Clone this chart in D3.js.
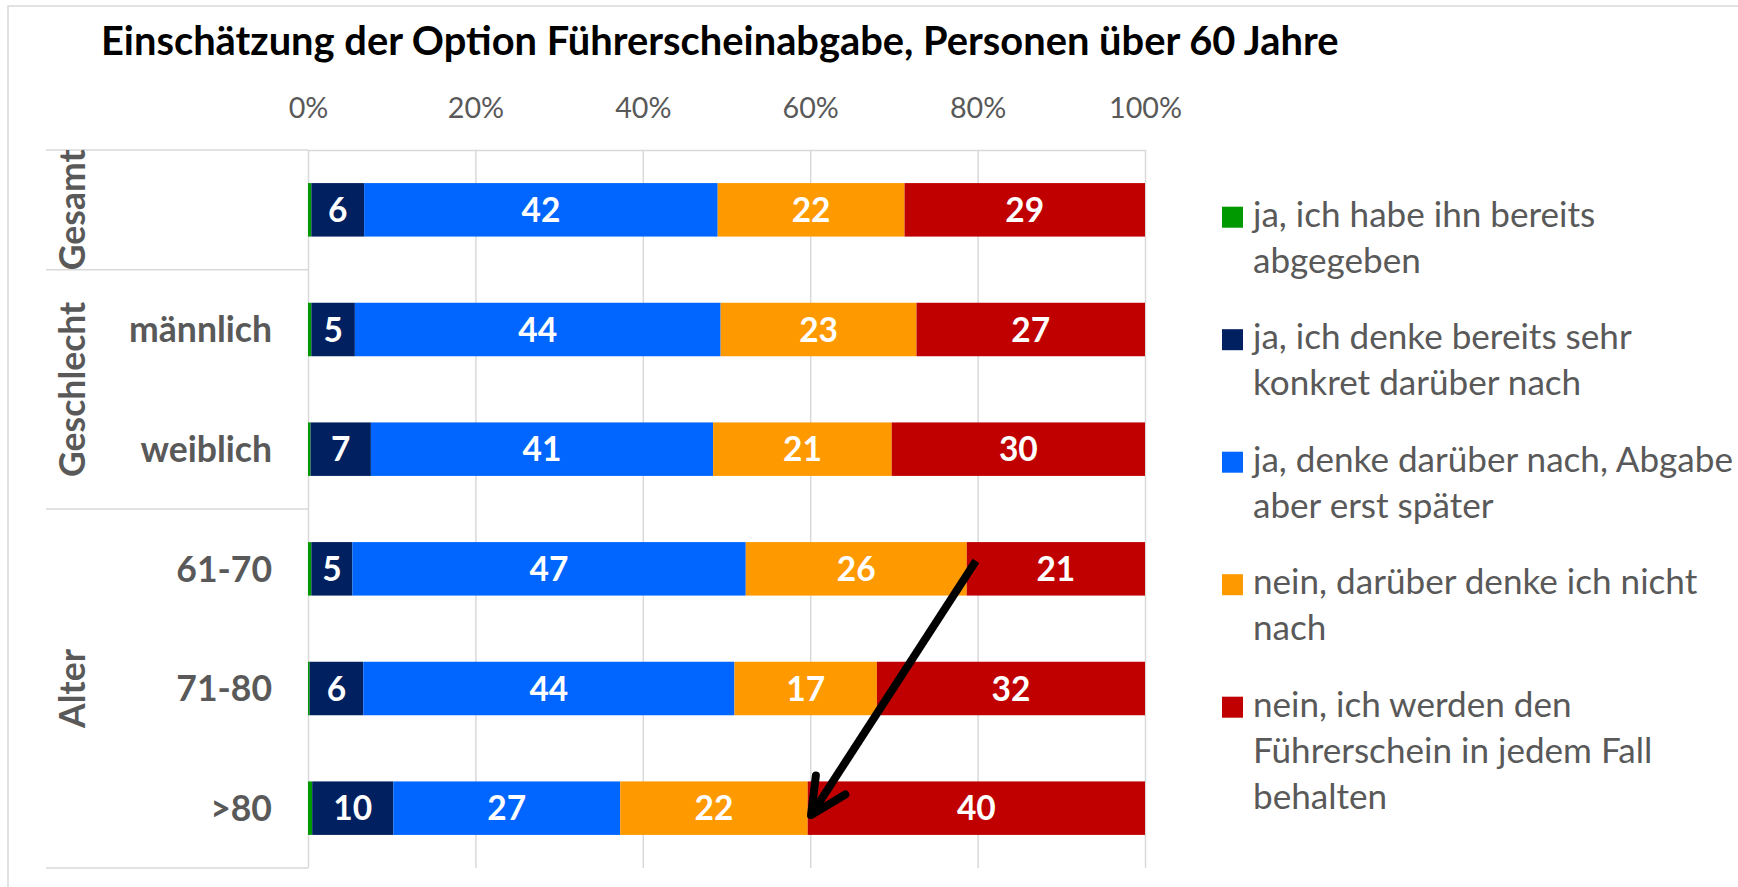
<!DOCTYPE html>
<html><head><meta charset="utf-8">
<script src="https://cdn.jsdelivr.net/npm/d3@7"></script>
<style>
html,body{margin:0;padding:0;background:#fff;}
svg{display:block;}
text{font-family:Lato,"Open Sans",sans-serif;}
</style></head><body>
<svg id="chart" width="1738" height="887"></svg>
<script>
// ---------- data ----------
const titleText = "Einschätzung der Option Führerscheinabgabe, Personen über 60 Jahre";
const categories = ["Gesamt", "männlich", "weiblich", "61-70", "71-80", ">80"];
const categoryLabels = ["", "männlich", "weiblich", "61-70", "71-80", ">80"];
const groupNames = ["Gesamt", "Geschlecht", "Alter"];
const groupSizes = [1, 2, 3];
const seriesKeys = ["abgegeben", "konkret", "spaeter", "nichtNach", "behalten"];
const legendLines = [
  ["ja, ich habe ihn bereits", "abgegeben"],
  ["ja, ich denke bereits sehr", "konkret darüber nach"],
  ["ja, denke darüber nach, Abgabe", "aber erst später"],
  ["nein, darüber denke ich nicht", "nach"],
  ["nein, ich werden den", "Führerschein in jedem Fall", "behalten"]
];
const seriesColors = ["#009900", "#002060", "#0066FF", "#FF9900", "#C00000"];
// percentages per category (order of categories)
const abgegeben = [0.4, 0.4, 0.3, 0.4, 0.2, 0.5];
const konkret   = [6.3, 5.2, 7.2, 4.9, 6.4, 9.7];
const spaeter   = [42.2, 43.7, 40.8, 47.0, 44.3, 27.1];
const nichtNach = [22.3, 23.4, 21.3, 26.4, 17.0, 22.4];
const behalten  = [28.7, 27.3, 30.2, 21.3, 32.0, 40.3];
const tickValues = [0, 0.2, 0.4, 0.6, 0.8, 1.0];
const tickLabels = ["0%", "20%", "40%", "60%", "80%", "100%"];
// arrow annotation (value share, category, position within bar)
const arrowFrom = {cat: "61-70", value: 0.798, pos: 0.35};
const arrowTo   = {cat: ">80",   value: 0.601, pos: 0.63};

// ---------- setup ----------
const svg = d3.select("#chart");
const grid = "#D9D9D9", textGray = "#595959";
const plot = {left: 308, right: 1145, top: 150, bottom: 868};
const x = d3.scaleLinear().domain([0, 1]).range([plot.left, plot.right]);
const y = d3.scaleBand().domain(categories).range([plot.top, plot.bottom])
  .paddingInner(0.553).paddingOuter(0.2765);
const bw = y.bandwidth();

function fitFont(sel, sampleNode, target) {
  const w = sampleNode.getComputedTextLength();
  const fs = parseFloat(d3.select(sampleNode).attr("font-size"));
  sel.attr("font-size", fs * target / w);
}

// chart frame
svg.append("rect").attr("x", 8).attr("y", 6).attr("width", 1760).attr("height", 900)
  .attr("fill", "none").attr("stroke", grid).attr("stroke-width", 1.5);

// title
const title = svg.append("text").attr("x", 101).attr("y", 55)
  .attr("font-size", 40).attr("font-weight", "bold").attr("fill", "#000").text(titleText);
fitFont(title, title.node(), 1238);

// value axis on top with gridlines
const axis = svg.append("g").attr("transform", `translate(0,${plot.top})`)
  .call(d3.axisTop(x).tickValues(tickValues).tickFormat((d, i) => tickLabels[i])
    .tickSize(-(plot.bottom - plot.top)).tickSizeOuter(0).tickPadding(32));
axis.select(".domain").attr("stroke", grid).attr("stroke-width", 1.5);
axis.selectAll(".tick line").attr("stroke", grid).attr("stroke-width", 1.5);
const ticks = axis.selectAll(".tick text").attr("fill", textGray)
  .attr("font-size", 28).attr("dy", 0).attr("font-family", "Lato,'Open Sans',sans-serif");
fitFont(ticks, ticks.nodes()[5], 73);

// category group separator lines
const bounds = [0];
groupSizes.forEach(s => bounds.push(bounds[bounds.length - 1] + s));
const boundY = k => k < categories.length ? y(categories[k]) - y.step() * y.paddingInner() / 2 : plot.bottom;
svg.append("g").selectAll("line").data(bounds).join("line")
  .attr("x1", 46).attr("x2", plot.left)
  .attr("y1", d => boundY(d)).attr("y2", d => boundY(d))
  .attr("stroke", grid).attr("stroke-width", 1.5);

// category labels
const catText = svg.append("g").selectAll("text").data(categories).join("text")
  .attr("x", 272).attr("y", d => y(d) + bw / 2).attr("dy", "0.36em")
  .attr("text-anchor", "end").attr("font-weight", "bold").attr("font-size", 33)
  .attr("fill", textGray).text((d, i) => categoryLabels[i]);
fitFont(catText, catText.nodes()[1], 143);
const catFs = catText.attr("font-size");

// group labels (rotated)
svg.append("g").selectAll("text").data(groupNames).join("text")
  .attr("transform", (d, i) => `translate(85,${(boundY(bounds[i]) + boundY(bounds[i + 1])) / 2}) rotate(-90)`)
  .attr("text-anchor", "middle").attr("font-weight", "bold").attr("font-size", catFs)
  .attr("fill", textGray).text(d => d);

// stacked bars
const rows = categories.map((c, i) => ({
  cat: c, abgegeben: abgegeben[i], konkret: konkret[i], spaeter: spaeter[i],
  nichtNach: nichtNach[i], behalten: behalten[i]
}));
const stacked = d3.stack().keys(seriesKeys).offset(d3.stackOffsetExpand)(rows);
const layers = svg.append("g").selectAll("g").data(stacked).join("g")
  .attr("fill", (d, i) => seriesColors[i]);
layers.selectAll("rect").data(d => d).join("rect")
  .attr("x", d => x(d[0])).attr("width", d => x(d[1]) - x(d[0]))
  .attr("y", d => y(d.data.cat)).attr("height", bw);

// data labels
const lab = svg.append("g");
stacked.forEach((layer) => {
  layer.forEach(d => {
    const v = d.data[layer.key];
    if (v < 2) return;
    lab.append("text").attr("x", (x(d[0]) + x(d[1])) / 2).attr("y", y(d.data.cat) + bw / 2)
      .attr("dy", "0.36em").attr("text-anchor", "middle").attr("fill", "#fff")
      .attr("font-weight", "bold").attr("font-size", 33.5).text(Math.round(v));
  });
});

// arrow annotation
const ax0 = x(arrowFrom.value), ay0 = y(arrowFrom.cat) + arrowFrom.pos * bw;
const ax1 = x(arrowTo.value), ay1 = y(arrowTo.cat) + arrowTo.pos * bw;
svg.append("line").attr("x1", ax0).attr("y1", ay0).attr("x2", ax1).attr("y2", ay1)
  .attr("stroke", "#000").attr("stroke-width", 8);
const ang = Math.atan2(ay0 - ay1, ax0 - ax1), head = 40, spread = 26 * Math.PI / 180;
const p1 = [ax1 + head * Math.cos(ang - spread), ay1 + head * Math.sin(ang - spread)];
const p2 = [ax1 + head * Math.cos(ang + spread), ay1 + head * Math.sin(ang + spread)];
svg.append("path").attr("d", `M${p1}L${ax1},${ay1}L${p2}`).attr("fill", "none")
  .attr("stroke", "#000").attr("stroke-width", 8)
  .attr("stroke-linecap", "round").attr("stroke-linejoin", "round");

// legend
const legend = svg.append("g");
const lgText = [];
legendLines.forEach((lines, i) => {
  const base = 226.7 + i * 122.5;
  legend.append("rect").attr("x", 1222).attr("y", base - 20).attr("width", 21).attr("height", 21)
    .attr("fill", seriesColors[i]);
  lines.forEach((ln, j) => {
    lgText.push(legend.append("text").attr("x", 1253).attr("y", base + j * 46)
      .attr("font-size", 35).attr("fill", textGray).text(ln).node());
  });
});
fitFont(legend.selectAll("text"), lgText[4], 480);
</script>
</body></html>
